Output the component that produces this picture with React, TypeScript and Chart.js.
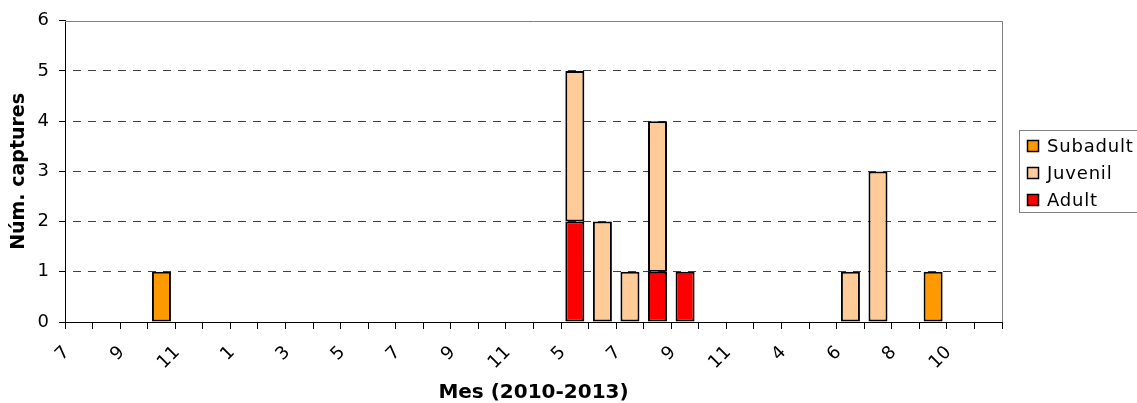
import React, { useEffect, useRef } from 'react';
import { Chart, registerables } from 'chart.js';

Chart.register(...registerables);

// Month categories (Jul 2010 – 2013), labels shown every other month
const months = [
  '7', '8', '9', '10', '11', '12',
  '1', '2', '3', '4', '5', '6', '7', '8', '9', '10', '11', '12',
  '5', '6', '7', '8', '9', '10', '11', '12',
  '4', '5', '6', '7', '8', '9', '10', '11',
];

const adult = [
  0, 0, 0, 0, 0, 0,
  0, 0, 0, 0, 0, 0, 0, 0, 0, 0, 0, 0,
  2, 0, 0, 1, 1, 0, 0, 0,
  0, 0, 0, 0, 0, 0, 0, 0,
];

const juvenil = [
  0, 0, 0, 0, 0, 0,
  0, 0, 0, 0, 0, 0, 0, 0, 0, 0, 0, 0,
  3, 2, 1, 3, 0, 0, 0, 0,
  0, 0, 1, 3, 0, 0, 0, 0,
];

const subadult = [
  0, 0, 0, 1, 0, 0,
  0, 0, 0, 0, 0, 0, 0, 0, 0, 0, 0, 0,
  0, 0, 0, 0, 0, 0, 0, 0,
  0, 0, 0, 0, 0, 1, 0, 0,
];

const seriesNames = ['Adult', 'Juvenil', 'Subadult'];
const seriesColors = ['#FF0000', '#FFCC99', '#FF9900'];

const xTitle = 'Mes (2010-2013)';
const yTitle = 'Núm. captures';

const FONT = '"DejaVu Sans", Verdana, sans-serif';

const plotBorder = {
  id: 'plotBorder',
  beforeDatasetsDraw(chart: any) {
    const { ctx, chartArea } = chart;
    ctx.save();
    ctx.strokeStyle = '#808080';
    ctx.lineWidth = 1;
    ctx.setLineDash([]);
    ctx.beginPath();
    const t = Math.round(chartArea.top) + 0.5;
    const r = Math.round(chartArea.right) + 0.5;
    ctx.moveTo(Math.round(chartArea.left), t);
    ctx.lineTo(r, t);
    ctx.lineTo(r, Math.round(chartArea.bottom));
    ctx.stroke();
    ctx.restore();
  },
};

const boxLegend = {
  id: 'boxLegend',
  afterDraw(chart: any) {
    const { ctx, chartArea } = chart;
    const items = chart.data.datasets.slice().reverse();
    const rowH = 27;
    const boxH = 82;
    const boxLeft = Math.round(chartArea.right + 17);
    const boxTop = Math.round((chartArea.top + chartArea.bottom) / 2 - boxH / 2);
    ctx.save();
    ctx.fillStyle = '#ffffff';
    ctx.fillRect(boxLeft, boxTop, 300, boxH);
    ctx.strokeStyle = '#808080';
    ctx.lineWidth = 1;
    ctx.strokeRect(boxLeft + 0.5, boxTop + 0.5, 300, boxH);
    ctx.font = '18px ' + FONT;
    ctx.textBaseline = 'middle';
    ctx.textAlign = 'left';
    try { (ctx as any).letterSpacing = '0.8px'; } catch (e) {}
    items.forEach((d: any, i: number) => {
      const cy = boxTop + 16 + i * rowH;
      ctx.fillStyle = d.backgroundColor;
      ctx.fillRect(boxLeft + 8, cy - 6, 12, 12);
      ctx.strokeStyle = '#000';
      ctx.lineWidth = 1.5;
      ctx.strokeRect(boxLeft + 8.5, cy - 5.5, 11, 11);
      ctx.fillStyle = '#000';
      ctx.fillText(d.label, boxLeft + 28, cy + 1);
    });
    ctx.restore();
  },
};

export default function App() {
  const canvasRef = useRef<HTMLCanvasElement | null>(null);

  useEffect(() => {
    if (!canvasRef.current) return;
    Chart.defaults.font.family = FONT;
    Chart.defaults.color = '#000';
    const seriesData = [adult, juvenil, subadult];
    const chart = new Chart(canvasRef.current, {
      type: 'bar',
      data: {
        labels: months,
        datasets: seriesNames.map((name, i) => ({
          label: name,
          data: seriesData[i],
          backgroundColor: seriesColors[i],
          borderColor: '#000',
          borderWidth: 2,
          borderSkipped: false,
          barPercentage: 0.69,
          categoryPercentage: 1,
        })),
      },
      options: {
        responsive: false,
        animation: false,
        layout: { padding: { left: 0, top: 18, right: 135, bottom: 0 } },
        plugins: {
          legend: { display: false },
          tooltip: { enabled: false },
        },
        scales: {
          x: {
            stacked: true,
            offset: true,
            grid: {
              offset: true,
              drawOnChartArea: false,
              drawTicks: true,
              tickLength: 7,
              tickColor: '#000',
            },
            border: { display: true, color: '#000', width: 1 },
            ticks: {
              autoSkip: false,
              maxRotation: 45,
              minRotation: 45,
              padding: 13,
              labelOffset: -12,
              font: { size: 18 },
              color: '#000',
              callback: (_v: any, idx: number) => (idx % 2 === 0 ? months[idx] : ''),
            },
            title: {
              display: true,
              text: xTitle,
              font: { size: 20, weight: 'bold', lineHeight: 1 },
              color: '#000',
              padding: { top: 0, bottom: 0 },
            },
            afterFit: (scale: any) => { scale.height = 81; },
          },
          y: {
            stacked: true,
            min: 0,
            max: 6,
            ticks: {
              stepSize: 1,
              padding: 10,
              font: { size: 18 },
              color: '#000',
            },
            grid: {
              color: (ctx: any) => (ctx.tick && (ctx.tick.value === 0 || ctx.tick.value === 6) ? 'rgba(0,0,0,0)' : '#404040'),
              lineWidth: 1,
              drawTicks: true,
              tickLength: 6,
              tickColor: '#000',
            },
            border: { display: true, color: '#000', width: 1, dash: [8, 7], dashOffset: 8 },
            title: {
              display: true,
              text: yTitle,
              font: { size: 19, weight: 'bold', lineHeight: 1 },
              color: '#000',
              padding: { top: 10, bottom: 0 },
            },
            afterFit: (scale: any) => { scale.width = 65; },
          },
        },
      },
      plugins: [plotBorder, boxLegend],
    } as any);
    return () => chart.destroy();
  }, []);

  return (
    <div style={{ position: 'fixed', left: 0, top: 0, width: 1137, height: 403, background: '#fff' }}>
      <canvas ref={canvasRef} width={1137} height={403} style={{ display: 'block' }} />
    </div>
  );
}
